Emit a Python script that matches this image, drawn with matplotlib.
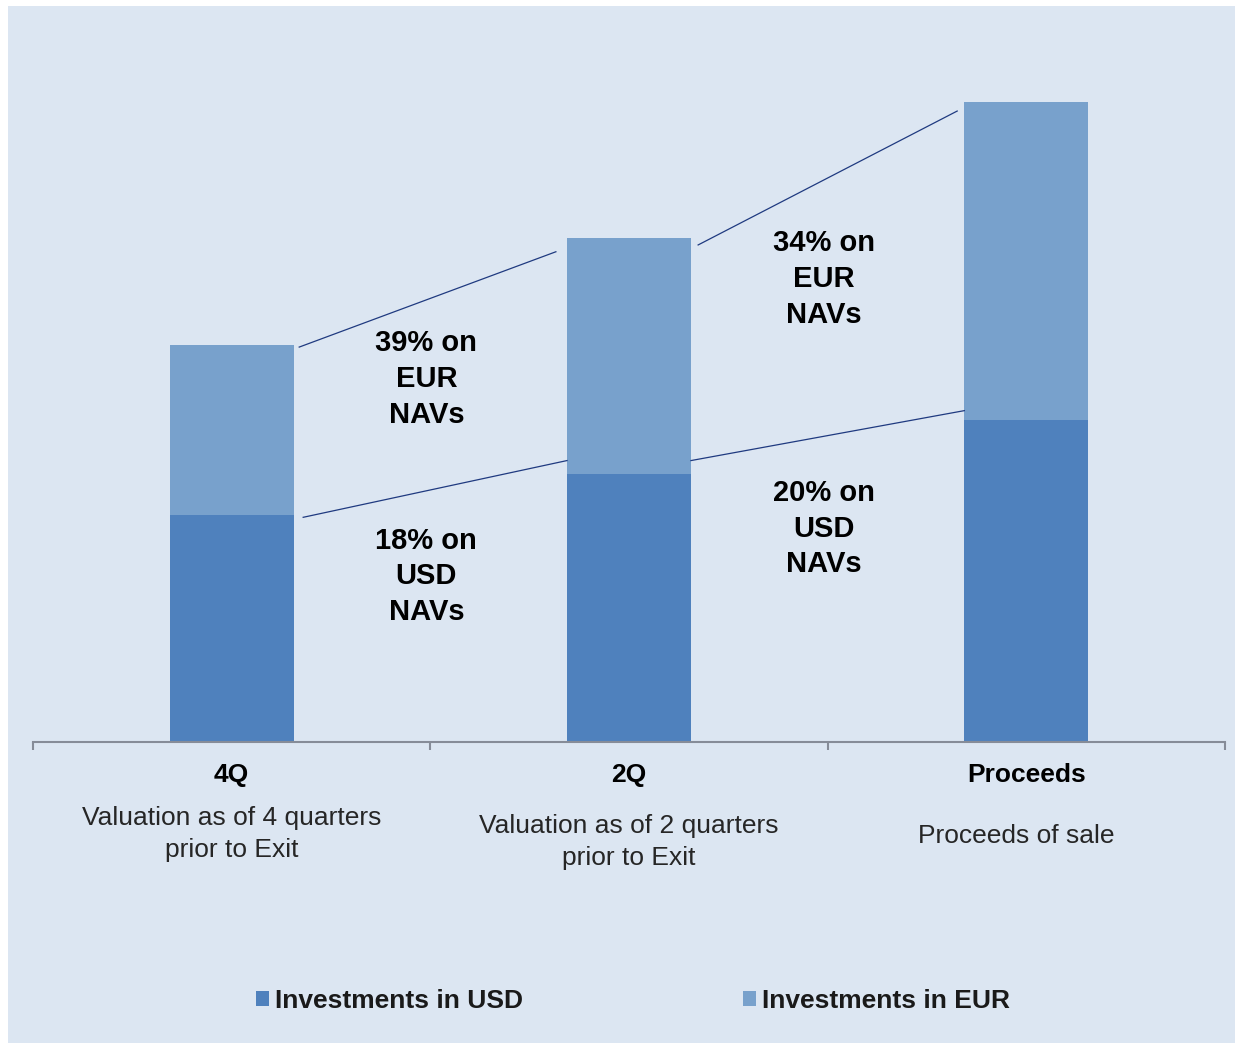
import matplotlib.pyplot as plt
import matplotlib.transforms as mtransforms
from matplotlib.patches import Patch, Rectangle

plt.rcParams["font.family"] = ["Liberation Sans", "DejaVu Sans"]

# chart data (arbitrary units, USD at 4Q = 100)
categories = ["4Q", "2Q", "Proceeds"]
subtitles = ["Valuation as of 4 quarters\nprior to Exit",
             "Valuation as of 2 quarters\nprior to Exit",
             "Proceeds of sale"]
usd = [100, 118, 142]
eur = [75, 104, 140]

# connector lines between bars: (x0, y0, x1, y1)
usd_links = [(0.18, 99, 0.844, 124), (1.156, 124, 1.844, 146)]
eur_links = [(0.17, 174, 0.816, 216), (1.174, 219, 1.826, 278)]

# growth callouts: (x, y, text)
callouts = [
    (0.49, 160, "39% on\nEUR\nNAVs"),
    (0.49, 73, "18% on\nUSD\nNAVs"),
    (1.49, 204, "34% on\nEUR\nNAVs"),
    (1.49, 94, "20% on\nUSD\nNAVs"),
]

c_usd = "#4f81bd"
c_eur = "#78a1cc"
c_bg = "#dce6f2"
c_link = "#1f3a80"

W, H = 1235, 1043
fig = plt.figure(figsize=(W / 100, H / 100), dpi=100, facecolor="white")
fig.patches.append(Rectangle((8 / W, 0), 1, 1 - 6 / H, transform=fig.transFigure,
                             facecolor=c_bg, edgecolor="none", zorder=-10))

ax = fig.add_axes([33 / W, 301 / H, 1192 / W, 702 / H])
ax.set_facecolor("none")

x = range(len(categories))
ax.bar(x, usd, width=0.312, color=c_usd, zorder=2)
ax.bar(x, eur, width=0.312, bottom=usd, color=c_eur, zorder=2)

for x0, y0, x1, y1 in usd_links + eur_links:
    ax.plot([x0, x1], [y0, y1], color=c_link, lw=0.9, zorder=3)

for cx, cy, txt in callouts:
    ax.text(cx, cy, txt, ha="center", va="center", fontsize=21,
            fontweight="bold", linespacing=1.35, color="black")

ax.set_xlim(-0.5, 2.5)
ax.set_ylim(0, 309.3)
ax.set_yticks([])
ax.set_xticks([-0.5, 0.5, 1.5, 2.5])
ax.set_xticklabels([])
ax.tick_params(axis="x", direction="out", length=6, width=1.5, color="#868c98")
for side in ["left", "right", "top"]:
    ax.spines[side].set_visible(False)
ax.spines["bottom"].set_color("#868c98")
ax.spines["bottom"].set_linewidth(1.5)

# category labels under the axis
trans = mtransforms.blended_transform_factory(ax.transData, fig.transFigure)
sub_y = [834, 842, 836]
sub_dx = [0, 0, -0.025]
for i, (cat, sub) in enumerate(zip(categories, subtitles)):
    ax.text(i, 1 - 775 / H, cat, transform=trans, ha="center", va="center",
            fontsize=19, fontweight="bold", color="black")
    ax.text(i + sub_dx[i], 1 - sub_y[i] / H, sub, transform=trans, ha="center",
            va="center", fontsize=19, color="#262626", linespacing=1.45)

handles = [Patch(facecolor=c_usd, label="Investments in USD"),
           Patch(facecolor=c_eur, label="Investments in EUR")]
fig.legend(handles=handles, loc="center", bbox_to_anchor=(633 / W, 1 - 1001 / H),
           ncol=2, frameon=False, handlelength=0.5, handleheight=0.5,
           handletextpad=0.25, columnspacing=8.3,
           prop={"size": 19, "weight": "bold"}, labelcolor="#1a1a1a")

fig.savefig("out.png", dpi=100, facecolor=fig.get_facecolor())
